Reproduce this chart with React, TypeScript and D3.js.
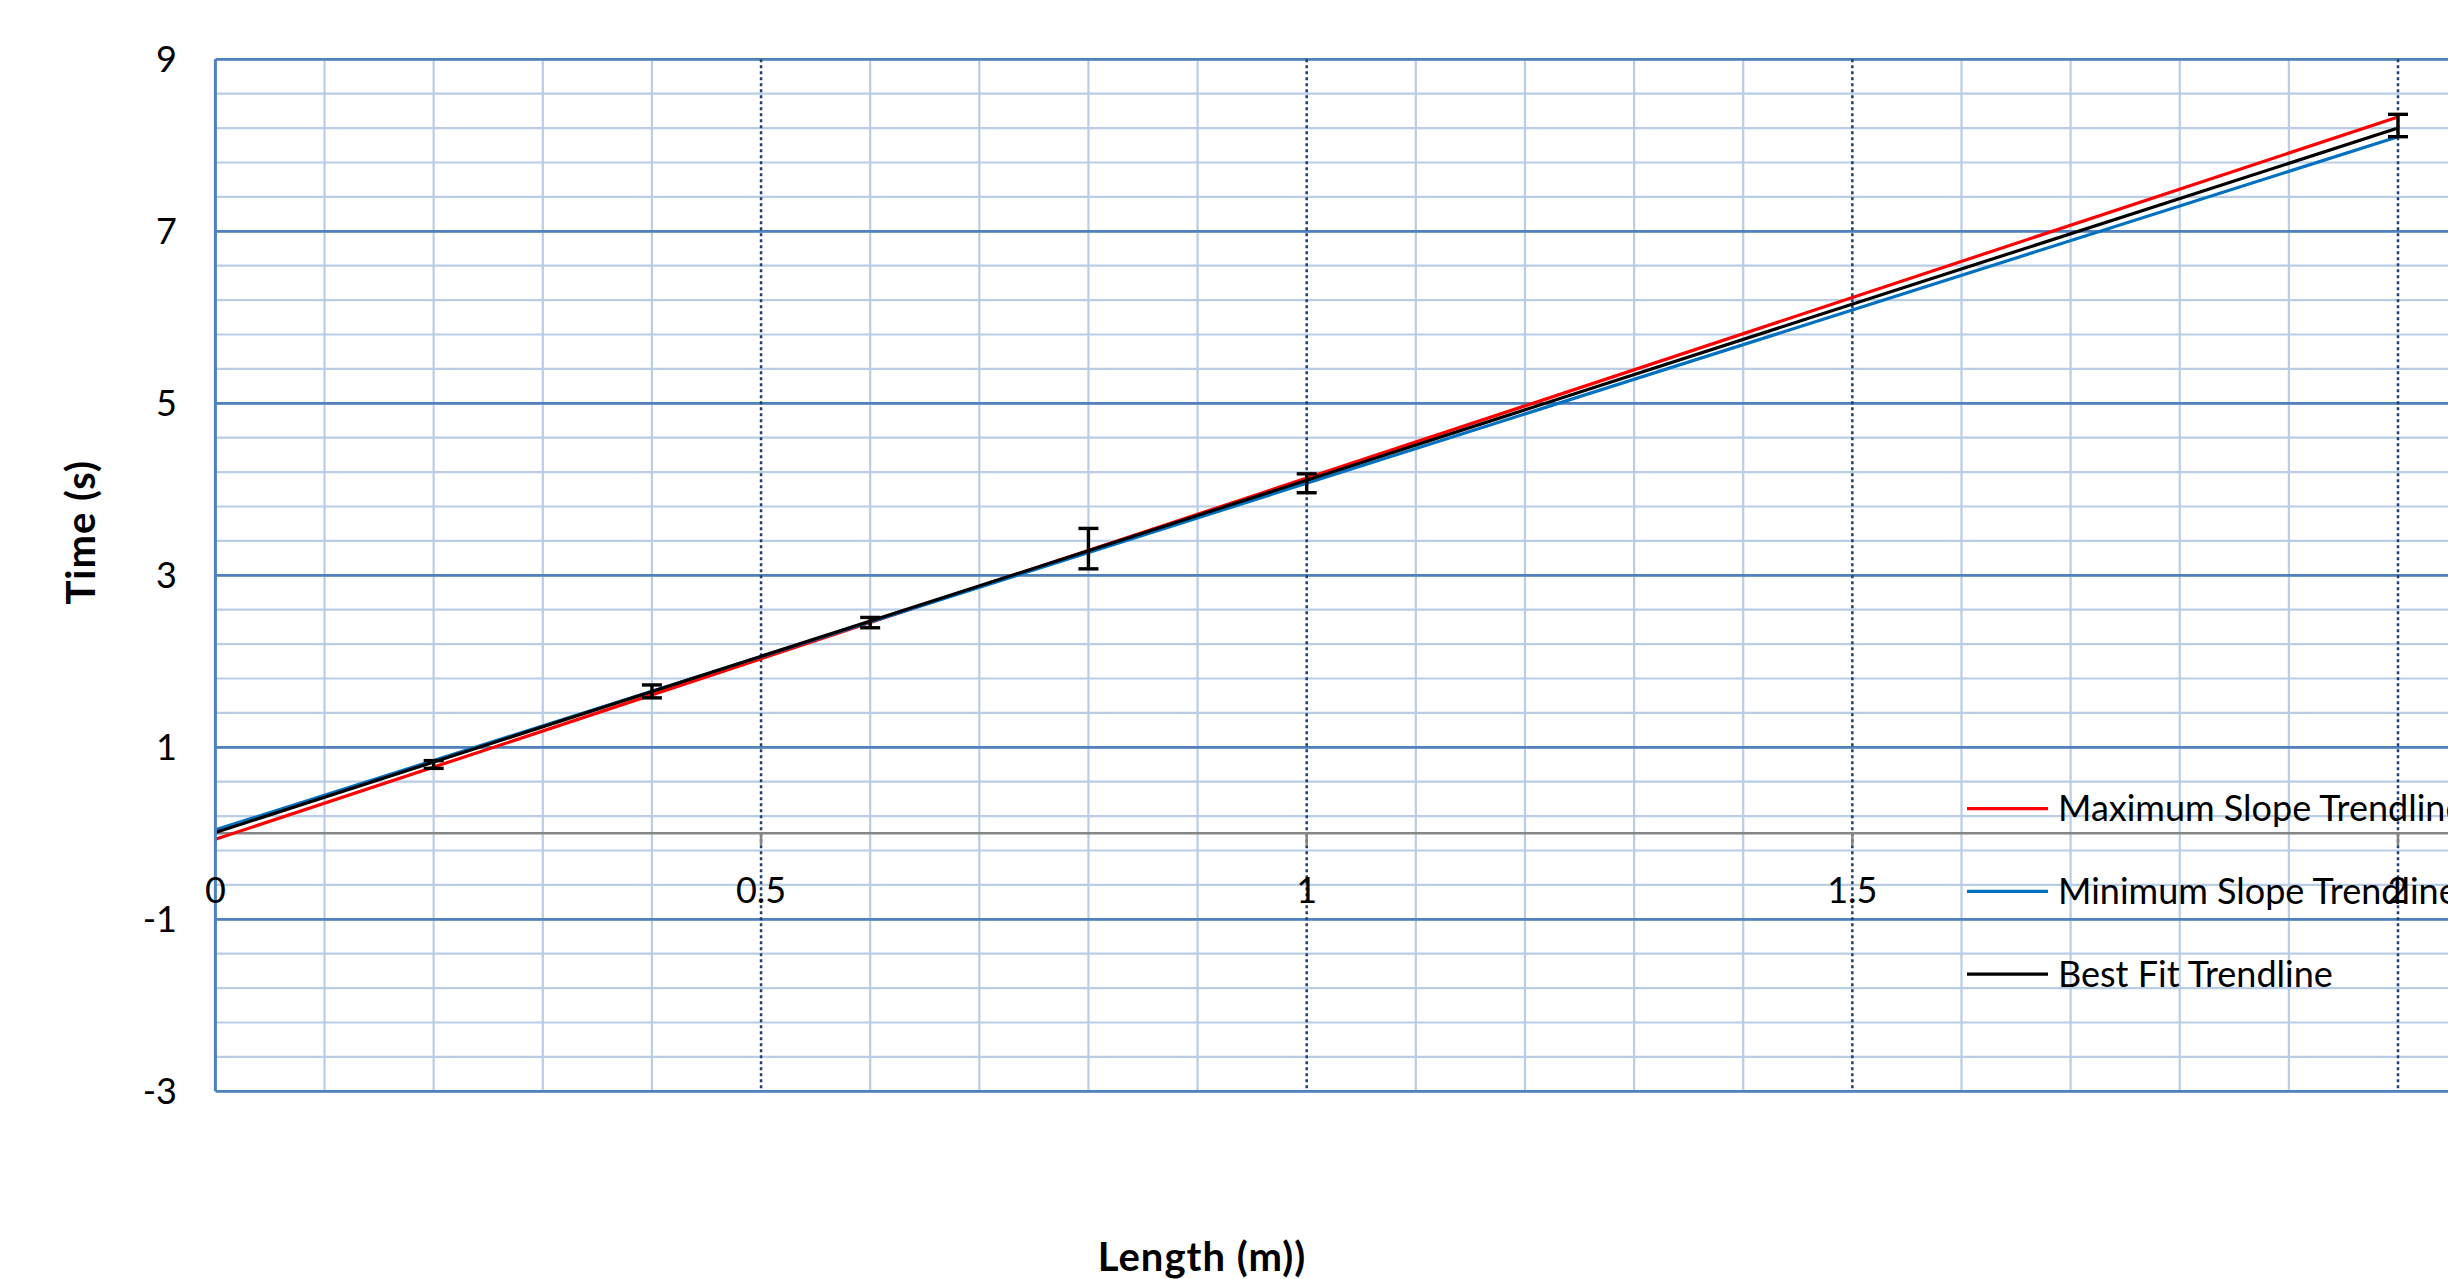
import React, { useEffect, useRef } from 'react';
import * as d3 from 'd3';

// measured lengths (m) and times (s) with their uncertainties
const lengths = [0.2, 0.4, 0.6, 0.8, 1.0, 2.0];
const times = [0.8, 1.65, 2.45, 3.31, 4.07, 8.23];
const timeErrors = [0.045, 0.075, 0.06, 0.235, 0.11, 0.13];

// trendlines, read at both ends of the data range
const trendX = [0, 2];
const maxSlopeY = [-0.07, 8.33];
const minSlopeY = [0.04, 8.1];
const bestFitY = [0.01, 8.2];

const xTicks = [0, 0.5, 1, 1.5, 2];
const yTicks = [-3, -1, 1, 3, 5, 7, 9];

const legendItems = [
  { name: 'Maximum Slope Trendline', color: '#FF0000' },
  { name: 'Minimum Slope Trendline', color: '#0070C0' },
  { name: 'Best Fit Trendline', color: '#000000' },
];

const W = 2448;
const H = 1279;
const FONT = 'Lato, "Open Sans", sans-serif';

const App = () => {
  const chartRef = useRef<SVGSVGElement>(null);

  const drawChart = () => {
    const svg = d3.select(chartRef.current);
    svg.selectAll('*').remove();

    const left = 215.4;
    const x = d3.scaleLinear().domain([0, 2]).range([left, 2398]);
    const y = d3.scaleLinear().domain([-3, 9]).range([1091.3, 59.3]);

    svg.append('defs').append('clipPath').attr('id', 'plot-clip')
      .append('rect').attr('x', left).attr('y', 0).attr('width', W - left).attr('height', H);

    const plot = svg.append('g').attr('clip-path', 'url(#plot-clip)');

    // minor horizontal grid every 0.4
    const minorY = d3.range(0, 31).map(i => -3 + i * 0.4);
    plot.selectAll('.hminor').data(minorY).enter().append('line')
      .attr('x1', left).attr('x2', W)
      .attr('y1', d => y(d)).attr('y2', d => y(d))
      .attr('stroke', '#B9CDE5').attr('stroke-width', 2.2);

    // minor vertical grid every 0.1
    const minorX = d3.range(1, 21).map(i => i * 0.1).filter((d, i) => (i + 1) % 5 !== 0);
    plot.selectAll('.vminor').data(minorX).enter().append('line')
      .attr('x1', d => x(d)).attr('x2', d => x(d))
      .attr('y1', y(9)).attr('y2', y(-3))
      .attr('stroke', '#B9CDE5').attr('stroke-width', 2.2);

    // major horizontal grid
    plot.selectAll('.hmajor').data(yTicks).enter().append('line')
      .attr('x1', left).attr('x2', W)
      .attr('y1', d => y(d)).attr('y2', d => y(d))
      .attr('stroke', '#4F81BD').attr('stroke-width', 2.8);

    // major vertical grid, dotted
    plot.selectAll('.vmajor').data(xTicks.slice(1)).enter().append('line')
      .attr('x1', d => x(d)).attr('x2', d => x(d))
      .attr('y1', y(9)).attr('y2', y(-3))
      .attr('stroke', '#1F3F73').attr('stroke-width', 2.5)
      .attr('stroke-dasharray', '3,3');

    // y axis line
    svg.append('line')
      .attr('x1', left).attr('x2', left).attr('y1', y(9)).attr('y2', y(-3))
      .attr('stroke', '#4F81BD').attr('stroke-width', 3);

    // x axis at zero
    plot.append('line')
      .attr('x1', left).attr('x2', W).attr('y1', y(0)).attr('y2', y(0))
      .attr('stroke', '#868686').attr('stroke-width', 2.5);
    plot.selectAll('.xtick').data(xTicks).enter().append('line')
      .attr('x1', d => x(d)).attr('x2', d => x(d))
      .attr('y1', y(0)).attr('y2', y(0) + 12)
      .attr('stroke', '#868686').attr('stroke-width', 2.5);

    // tick labels
    svg.selectAll('.xlabel').data(xTicks).enter().append('text')
      .attr('x', d => x(d)).attr('y', y(0) + 70)
      .attr('text-anchor', 'middle')
      .attr('font-family', FONT).attr('font-size', 36).attr('fill', '#000')
      .text(d => String(d));

    svg.selectAll('.ylabel').data(yTicks).enter().append('text')
      .attr('x', 177).attr('y', d => y(d)).attr('dy', '0.35em')
      .attr('text-anchor', 'end')
      .attr('font-family', FONT).attr('font-size', 36).attr('fill', '#000')
      .text(d => String(d));

    // trendlines
    const line = d3.line<[number, number]>().x(d => x(d[0])).y(d => y(d[1]));
    const trends = [
      { ys: maxSlopeY, color: '#FF0000' },
      { ys: minSlopeY, color: '#0070C0' },
      { ys: bestFitY, color: '#000000' },
    ];
    trends.forEach(t => {
      plot.append('path')
        .datum(trendX.map((v, i) => [v, t.ys[i]] as [number, number]))
        .attr('d', line)
        .attr('fill', 'none').attr('stroke', t.color).attr('stroke-width', 3.2);
    });

    // error bars
    const pts = lengths.map((l, i) => ({ l, t: times[i], e: timeErrors[i] }));
    const eb = plot.selectAll('.eb').data(pts).enter().append('g')
      .attr('stroke', '#000').attr('stroke-width', 3.4);
    eb.append('line')
      .attr('x1', d => x(d.l)).attr('x2', d => x(d.l))
      .attr('y1', d => y(d.t + d.e)).attr('y2', d => y(d.t - d.e));
    eb.append('line')
      .attr('x1', d => x(d.l) - 10).attr('x2', d => x(d.l) + 10)
      .attr('y1', d => y(d.t + d.e)).attr('y2', d => y(d.t + d.e));
    eb.append('line')
      .attr('x1', d => x(d.l) - 10).attr('x2', d => x(d.l) + 10)
      .attr('y1', d => y(d.t - d.e)).attr('y2', d => y(d.t - d.e));

    // legend
    const legend = svg.append('g');
    legendItems.forEach((item, i) => {
      const ly = 808.7 + i * 82.7;
      legend.append('line')
        .attr('x1', 1967).attr('x2', 2048).attr('y1', ly).attr('y2', ly)
        .attr('stroke', item.color).attr('stroke-width', 3.2);
      legend.append('text')
        .attr('x', 2058).attr('y', ly).attr('dy', '0.35em')
        .attr('font-family', FONT).attr('font-size', 36).attr('fill', '#000')
        .text(item.name);
    });

    // axis titles
    svg.append('text')
      .attr('transform', `translate(95, ${y(3.5)}) rotate(-90)`)
      .attr('text-anchor', 'middle')
      .attr('font-family', FONT).attr('font-size', 40).attr('font-weight', 'bold')
      .attr('letter-spacing', 1)
      .text('Time (s)');

    svg.append('text')
      .attr('x', 1202).attr('y', 1271)
      .attr('text-anchor', 'middle')
      .attr('font-family', FONT).attr('font-size', 40).attr('font-weight', 'bold')
      .attr('letter-spacing', 1)
      .text('Length (m))');
  };

  useEffect(() => {
    drawChart();
  }, []);

  return (
    <div>
      <svg ref={chartRef} width={W} height={H}
        style={{ position: 'absolute', left: 0, top: 0, background: '#fff' }}></svg>
    </div>
  );
};

export default App;
